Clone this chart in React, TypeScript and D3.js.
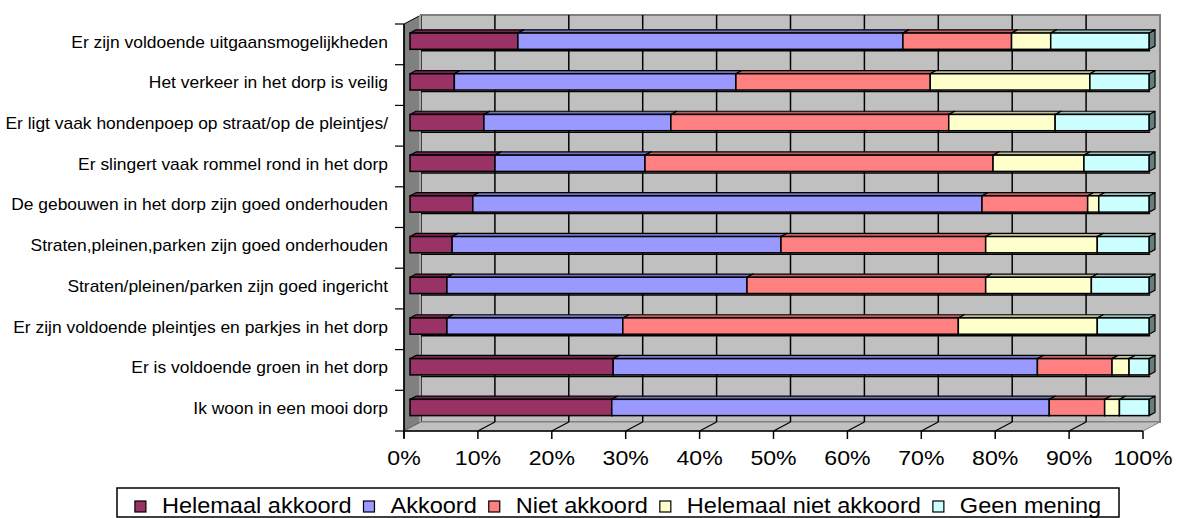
import React, { useEffect, useRef } from "react";
import * as d3 from "d3";

const categories = [
  "Er zijn voldoende uitgaansmogelijkheden",
  "Het verkeer in het dorp is veilig",
  "Er ligt vaak hondenpoep op straat/op de pleintjes/",
  "Er slingert vaak rommel rond in het dorp",
  "De gebouwen in het dorp zijn goed onderhouden",
  "Straten,pleinen,parken zijn goed onderhouden",
  "Straten/pleinen/parken zijn goed ingericht",
  "Er zijn voldoende pleintjes en parkjes in het dorp",
  "Er is voldoende groen in het dorp",
  "Ik woon in een mooi dorp",
];
const seriesNames = ["Helemaal akkoord", "Akkoord", "Niet akkoord", "Helemaal niet akkoord", "Geen mening"];
const helemaalAkkoord = [14.6, 6.0, 10.0, 11.5, 8.5, 5.7, 5.0, 5.0, 27.5, 27.3];
const akkoord = [52.1, 38.1, 25.3, 20.3, 68.9, 44.5, 40.6, 23.8, 57.4, 59.2];
const nietAkkoord = [14.7, 26.3, 37.6, 47.1, 14.3, 27.7, 32.3, 45.4, 10.1, 7.5];
const helemaalNietAkkoord = [5.3, 21.6, 14.4, 12.3, 1.5, 15.1, 14.3, 18.8, 2.3, 2.0];
const geenMening = [13.3, 8.0, 12.7, 8.8, 6.8, 7.0, 7.8, 7.0, 2.7, 4.0];
const tickValues = [0, 10, 20, 30, 40, 50, 60, 70, 80, 90, 100];
const tickLabels = ["0%", "10%", "20%", "30%", "40%", "50%", "60%", "70%", "80%", "90%", "100%"];
const colors = ["#993366", "#9999FF", "#FF8080", "#FFFFCC", "#CCFFFF"];

const W = 1177;
const H = 518;
const FONT = "'Liberation Sans', Arial, sans-serif";

export default function App() {
  const ref = useRef<SVGSVGElement | null>(null);

  useEffect(() => {
    const svg = d3.select(ref.current);
    svg.selectAll("*").remove();

    const X0 = 404, X1 = 1143, Y0 = 24, Y1 = 431, DX = 17, DY = -9;
    const x = d3.scaleLinear().domain([0, 100]).range([X0, X1]);
    const y = d3.scaleBand<string>().domain(categories).range([Y0, Y1]).paddingInner(0).paddingOuter(0);
    const P = (v: number, yy: number, d: number): [number, number] => [x(v) + d * DX, yy + d * DY];
    const poly = (pts: [number, number][]) => pts.map((p) => p.join(",")).join(" ");

    const g = svg.append("g");

    // back wall
    const bwTL = P(0, Y0, 1), bwBR = P(100, Y1, 1);
    g.append("rect")
      .attr("x", bwTL[0]).attr("y", bwTL[1])
      .attr("width", bwBR[0] - bwTL[0]).attr("height", bwBR[1] - bwTL[1])
      .attr("fill", "#c0c0c0").attr("stroke", "#808080").attr("stroke-width", 2);

    // left side wall
    g.append("polygon")
      .attr("points", poly([P(0, Y0, 0), P(0, Y0, 1), P(0, Y1, 1), P(0, Y1, 0)]))
      .attr("fill", "#808080").attr("stroke", "#000").attr("stroke-width", 1);
    g.append("line")
      .attr("x1", bwTL[0] - 1).attr("x2", bwTL[0] - 1).attr("y1", bwTL[1]).attr("y2", bwBR[1])
      .attr("stroke", "#a6a6a6").attr("stroke-width", 2);

    // floor
    g.append("polygon")
      .attr("points", poly([P(0, Y1, 0), P(100, Y1, 0), P(100, Y1, 1), P(0, Y1, 1)]))
      .attr("fill", "#c0c0c0").attr("stroke", "#808080").attr("stroke-width", 1);

    const bw = y.bandwidth();
    const barH = bw / 2.5;
    const d0 = 6 / 17, d1 = 12 / 17;

    // vertical gridlines on back wall and floor
    tickValues.slice(1, -1).forEach((t) => {
      const a = P(t, Y0, 1), b = P(t, Y1, 1), c = P(t, Y1, 0);
      g.append("line").attr("x1", a[0]).attr("y1", a[1]).attr("x2", b[0]).attr("y2", b[1])
        .attr("stroke", "#000").attr("stroke-width", 1.5);
      g.append("line").attr("x1", b[0]).attr("y1", b[1]).attr("x2", c[0]).attr("y2", c[1])
        .attr("stroke", "#000").attr("stroke-width", 1.2);
    });

    // horizontal lines on back wall (under each bar)
    categories.slice(0, -1).forEach((cat) => {
      const yy = (y(cat) as number) + (bw + barH) / 2 + d0 * DY + 1.5;
      g.append("line").attr("x1", x(0) + DX).attr("x2", x(100) + DX * 0.42)
        .attr("y1", yy).attr("y2", yy).attr("stroke", "#000").attr("stroke-width", 1.5);
    });

    // bars
    const series = [helemaalAkkoord, akkoord, nietAkkoord, helemaalNietAkkoord, geenMening];
    categories.forEach((cat, i) => {
      const total = d3.sum(series, (s) => s[i]);
      const yt = (y(cat) as number) + (bw - barH) / 2;
      const yb = yt + barH;
      let acc = 0;
      series.forEach((s, k) => {
        const v0 = (acc / total) * 100;
        acc += s[i];
        const v1 = (acc / total) * 100;
        const base = d3.color(colors[k])!;
        const topC = base.darker(0.8).formatHex();
        const sideC = base.darker(2).formatHex();
        const bg = g.append("g");
        bg.append("polygon")
          .attr("points", poly([P(v1, yt, d0), P(v1, yt, d1), P(v1, yb, d1), P(v1, yb, d0)]))
          .attr("fill", sideC).attr("stroke", "#000").attr("stroke-width", 1.2).attr("stroke-linejoin", "round");
        bg.append("polygon")
          .attr("points", poly([P(v0, yt, d0), P(v0, yt, d1), P(v1, yt, d1), P(v1, yt, d0)]))
          .attr("fill", topC).attr("stroke", "#000").attr("stroke-width", 1.2).attr("stroke-linejoin", "round");
        const f0 = P(v0, yt, d0), f1 = P(v1, yb, d0);
        bg.append("rect")
          .attr("x", f0[0]).attr("y", f0[1]).attr("width", f1[0] - f0[0]).attr("height", f1[1] - f0[1])
          .attr("fill", colors[k]).attr("stroke", "#000").attr("stroke-width", 1.5);
      });
    });

    // left axis
    g.append("line").attr("x1", X0).attr("x2", X0).attr("y1", Y0).attr("y2", Y1 + 7)
      .attr("stroke", "#000").attr("stroke-width", 1.5);
    d3.range(categories.length + 1).forEach((j) => {
      const yy = Y0 + j * bw;
      g.append("line").attr("x1", X0 - 9).attr("x2", X0).attr("y1", yy).attr("y2", yy)
        .attr("stroke", "#000").attr("stroke-width", 1.2);
    });
    categories.forEach((cat) => {
      g.append("text")
        .attr("transform", `translate(388,${(y(cat) as number) + bw / 2 - 2}) scale(1.09,1)`)
        .attr("text-anchor", "end").attr("dominant-baseline", "central")
        .attr("font-family", FONT).attr("font-size", 16).attr("fill", "#000")
        .text(cat);
    });

    // bottom axis
    g.append("line").attr("x1", X0).attr("x2", X1).attr("y1", Y1).attr("y2", Y1)
      .attr("stroke", "#000").attr("stroke-width", 1.5);
    tickValues.forEach((t, i) => {
      g.append("line").attr("x1", x(t)).attr("x2", x(t)).attr("y1", Y1).attr("y2", Y1 + 8)
        .attr("stroke", "#000").attr("stroke-width", 1.5);
      g.append("text")
        .attr("transform", `translate(${x(t)},465) scale(1.1,1)`)
        .attr("text-anchor", "middle")
        .attr("font-family", FONT).attr("font-size", 21).attr("fill", "#000")
        .text(tickLabels[i]);
    });

    // legend
    const lg = svg.append("g");
    const box = lg.append("rect").attr("fill", "#fff").attr("stroke", "#000").attr("stroke-width", 1.5);
    const SX = 1.07;
    let cx = 0;
    const items = lg.append("g");
    seriesNames.forEach((name, k) => {
      items.append("rect").attr("x", cx).attr("y", 501).attr("width", 11).attr("height", 11)
        .attr("fill", colors[k]).attr("stroke", "#000").attr("stroke-width", 1.2);
      const t = items.append("text").attr("transform", `translate(${cx + 27},513) scale(${SX},1)`)
        .attr("font-family", FONT).attr("font-size", 22).attr("fill", "#000").text(name);
      const tw = (t.node() as SVGTextElement).getComputedTextLength() * SX;
      cx += 27 + tw + 12;
    });
    const contentW = cx - 12;
    const boxL = 117, boxR = 1119;
    const off = (boxL + boxR) / 2 - contentW / 2;
    items.attr("transform", `translate(${off},0)`);
    box.attr("x", boxL).attr("y", 488).attr("width", boxR - boxL).attr("height", 29);
  }, []);

  return (
    <svg
      ref={ref}
      width={W}
      height={H}
      style={{ position: "absolute", left: 0, top: 0, background: "#fff" }}
    />
  );
}
